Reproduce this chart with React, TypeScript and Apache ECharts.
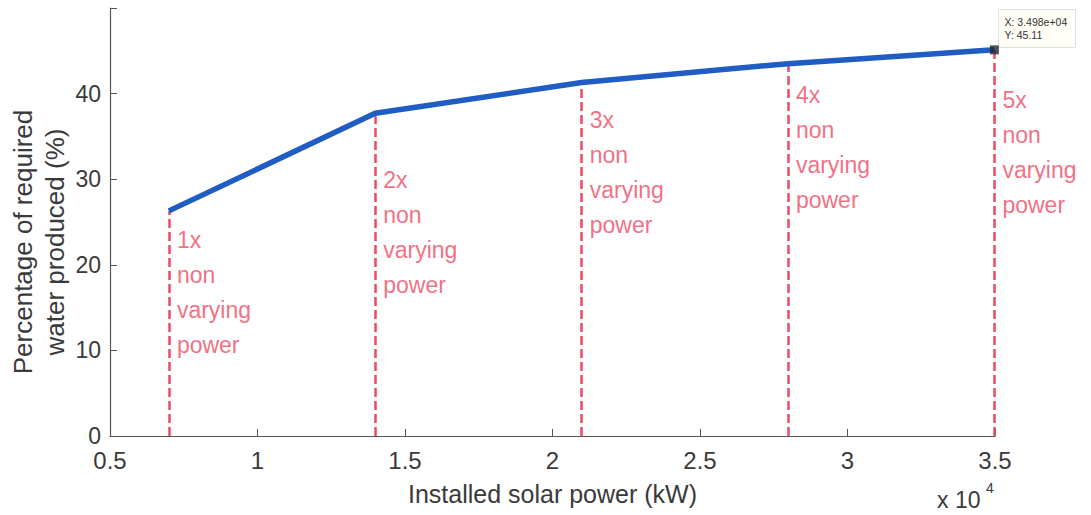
import React, { useEffect, useRef } from "react";
import * as echarts from "echarts";

// Installed solar power (x 10^4 kW) and percentage of required water produced
const xValues = [0.6996, 1.399, 2.099, 2.798, 3.498];
const yValues = [26.3, 37.7, 41.3, 43.5, 45.11];
// Annotation labels for each dashed marker line
const annotationTitles = ["1x", "2x", "3x", "4x", "5x"];
const annotationTopY = [25.0, 32.0, 39.0, 41.9, 41.3];
const xTicks = [0.5, 1, 1.5, 2, 2.5, 3, 3.5];
const yTicks = [0, 10, 20, 30, 40];

const FONT = "Liberation Sans, Arial, Helvetica, sans-serif";
const RED = "#ee4a63";
const BLUE = "#1f5cc4";
const TXT = "#3a3a3a";

export default function App() {
  const ref = useRef<HTMLDivElement>(null);
  useEffect(() => {
    if (!ref.current) return;
    const chart = echarts.init(ref.current, undefined, { renderer: "svg" });
    const lineData = xValues.map((x, i) => [x, yValues[i]]);
    const last = lineData[lineData.length - 1];
    const markLines = xValues.map((x, i) => [
      { coord: [x, 0] },
      { coord: [x, yValues[i]] },
    ]);
    const annData = xValues.map((x, i) => ({
      value: [x, annotationTopY[i]],
      name: annotationTitles[i],
    }));
    chart.setOption({
      animation: false,
      backgroundColor: "#ffffff",
      grid: {
        left: 110,
        right: 96,
        top: 8,
        bottom: 79,
        containLabel: false,
        outerBoundsMode: "none",
      },
      xAxis: {
        type: "value",
        min: 0.5,
        max: 3.5,
        interval: 0.5,
        name: "Installed solar power (kW)",
        nameLocation: "middle",
        nameGap: 45,
        nameTextStyle: { fontFamily: FONT, fontSize: 25, color: TXT },
        axisLine: { show: true, onZero: false, lineStyle: { color: "#555", width: 1.2 } },
        axisTick: { show: true, inside: true, length: 7, lineStyle: { color: "#555" } },
        axisLabel: {
          fontFamily: FONT,
          fontSize: 24,
          color: TXT,
          margin: 12,
          formatter: (v: number) => (xTicks.includes(v) ? String(v) : ""),
        },
        splitLine: { show: false },
      },
      yAxis: {
        type: "value",
        min: 0,
        max: 50,
        interval: 10,
        axisLine: { show: true, onZero: false, lineStyle: { color: "#555", width: 1.2 } },
        axisTick: {
          show: true,
          inside: true,
          length: 7,
          lineStyle: { color: "#555" },
        },
        axisLabel: {
          fontFamily: FONT,
          fontSize: 23,
          lineHeight: 22,
          color: TXT,
          margin: 9,
          formatter: (v: number) => (yTicks.includes(v) ? String(v) : ""),
        },
        splitLine: { show: false },
      },
      series: [
        {
          type: "line",
          data: lineData,
          showSymbol: false,
          symbol: "none",
          lineStyle: { color: BLUE, width: 5.5 },
          z: 3,
          markLine: {
            silent: true,
            symbol: "none",
            label: { show: false },
            lineStyle: { color: RED, width: 2.5, type: [9, 4] },
            data: markLines,
            z: 2,
          },
        },
        {
          type: "scatter",
          data: annData,
          symbolSize: 0,
          silent: true,
          label: {
            show: true,
            position: [8, 0],
            align: "left",
            verticalAlign: "top",
            fontFamily: FONT,
            fontSize: 23,
            lineHeight: 35,
            color: RED,
            formatter: (p: any) => p.name + "\nnon\nvarying\npower",
          },
        },
        {
          type: "scatter",
          data: [last],
          symbol: "rect",
          symbolSize: 9,
          itemStyle: { color: "#1e2a2a" },
          z: 5,
        },
      ],
      graphic: [
        {
          type: "text",
          x: 39,
          y: 242,
          rotation: Math.PI / 2,
          style: {
            text: "Percentage of required\nwater produced (%)",
            fontFamily: FONT,
            fontSize: 26,
            lineHeight: 32,
            fill: TXT,
            align: "center",
            verticalAlign: "middle",
          },
        },
        {
          type: "group",
          left: 998,
          top: 9,
          children: [
            {
              type: "rect",
              shape: { x: 0, y: 0, width: 77, height: 38 },
              style: { fill: "#fffff8", stroke: "#e2e2e2", lineWidth: 1 },
            },
            {
              type: "text",
              x: 6,
              y: 6,
              style: {
                text: "X: 3.498e+04\nY: 45.11",
                fontFamily: FONT,
                fontSize: 10.5,
                lineHeight: 13,
                fill: "#333",
              },
            },
          ],
        },
        {
          type: "text",
          x: 937,
          y: 500,
          style: {
            text: "x 10",
            fontFamily: FONT,
            fontSize: 23,
            fill: TXT,
            align: "left",
            verticalAlign: "middle",
          },
        },
        {
          type: "text",
          x: 986,
          y: 488,
          style: {
            text: "4",
            fontFamily: FONT,
            fontSize: 14,
            fill: TXT,
            align: "left",
            verticalAlign: "middle",
          },
        },
      ],
    });
    return () => chart.dispose();
  }, []);
  return (
    <div
      ref={ref}
      style={{ position: "absolute", left: 0, top: 0, width: 1091, height: 515 }}
    />
  );
}
